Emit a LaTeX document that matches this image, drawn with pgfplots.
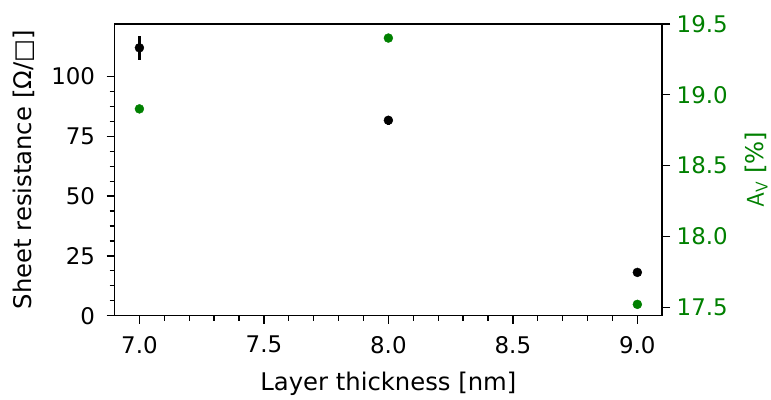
\documentclass[border=0pt]{standalone}
\usepackage{pgfplots}
\pgfplotsset{compat=1.18}
\usepackage{fontspec}
\setmainfont{DejaVu Sans}
\definecolor{avgreen}{HTML}{008000}

\pgfplotsset{
  common/.style={
    scale only axis, width=550pt, height=293pt,
    xmin=6.9, xmax=9.1,
    tick align=outside,
    /pgf/number format/assume math mode=true,
    tick label style={font=\fontsize{23}{25}\selectfont},
    label style={font=\fontsize{24.4}{26}\selectfont},
    major tick length=8pt, minor tick length=5pt,
    every tick/.style={black, line width=1.3pt},
    axis line style={line width=1.6pt},
  }
}

\begin{document}
\begin{tikzpicture}
% sheet resistance, left axis
\begin{axis}[common, name=main,
    ymin=0, ymax=122,
    xtick={7,7.5,8,8.5,9}, minor x tick num=4,
    ytick={0,25,50,75,100}, minor y tick num=3,
    xtick pos=bottom, ytick pos=left,
    xticklabel style={yshift=-9pt, /pgf/number format/.cd, fixed, fixed zerofill, precision=1},
    yticklabel style={xshift=-8pt},
    xlabel={Layer thickness [nm]},
    xlabel style={yshift=-12pt},
    ylabel={Sheet resistance [Ω/□]},
    ylabel style={yshift=10pt},
]
\addplot[only marks, mark=*, mark size=4.5pt, black,
  error bars/.cd, y dir=both, y explicit, error mark=none,
  error bar style={line width=3.2pt}]
  coordinates {
    (7, 112) +- (0, 5)
    (8, 81.7) +- (0, 1.8)
    (9, 18.1) +- (0, 0.5)
  };
\end{axis}
% A_V, right axis
\begin{axis}[common,
    ymin=17.44, ymax=19.5,
    axis y line*=right, axis x line=none,
    ytick={17.5,18,18.5,19,19.5},
    yticklabel style={xshift=3pt, color=avgreen, /pgf/number format/.cd, fixed, fixed zerofill, precision=1},
    ylabel={$\mathsf{A_V}$ [\%]},
    ylabel style={color=avgreen, yshift=-11pt},
]
\addplot[only marks, mark=*, mark size=4.5pt, color=avgreen]
  coordinates {
    (7, 18.90)
    (8, 19.40)
    (9, 17.52)
  };
\end{axis}
\path ([xshift=-115pt, yshift=-76pt]main.south west) rectangle ([xshift=106pt, yshift=24pt]main.north east);
\end{tikzpicture}
\end{document}
